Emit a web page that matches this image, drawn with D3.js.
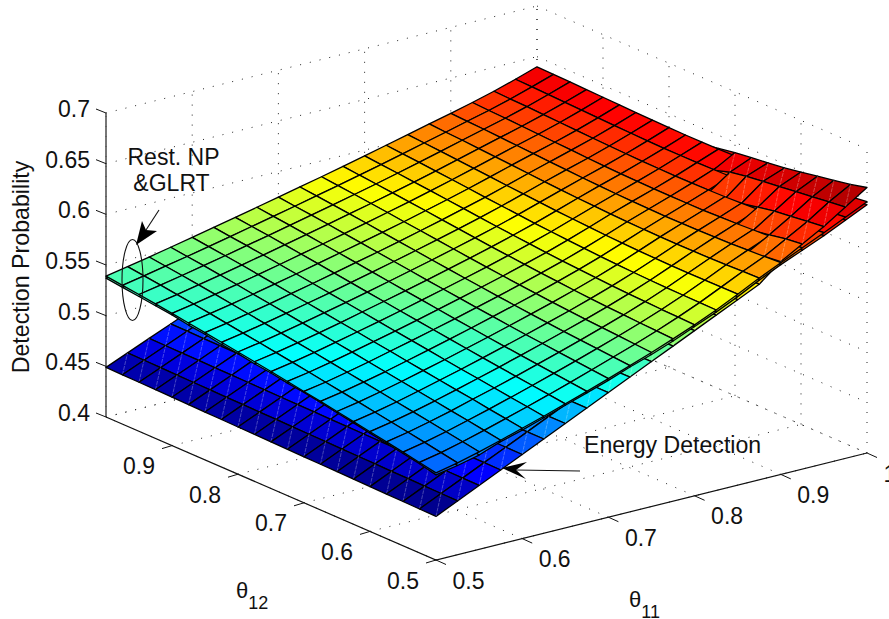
<!DOCTYPE html>
<html lang="en">
<head>
<meta charset="UTF-8">
<title>Detection Probability surfaces</title>
<style>
html, body { margin: 0; background: #fff; }
svg { display: block; }
text { font-family: "Liberation Sans", Arial, sans-serif; fill: #111; }
</style>
</head>
<body>
<svg id="chart" width="889" height="619"></svg>
<script src="https://d3js.org/d3.v7.min.js"></script>
<script>
// theta axes, 21 grid points from 0.5 to 1
const theta11 = [0.5,0.525,0.55,0.575,0.6,0.625,0.65,0.675,0.7,0.725,0.75,0.775,0.8,0.825,0.85,0.875,0.9,0.925,0.95,0.975,1];
const theta12 = [0.5,0.525,0.55,0.575,0.6,0.625,0.65,0.675,0.7,0.725,0.75,0.775,0.8,0.825,0.85,0.875,0.9,0.925,0.95,0.975,1];

const theta11Ticks = [0.5,0.6,0.7,0.8,0.9,1];
const theta12Ticks = [0.5,0.6,0.7,0.8,0.9];
const probTicks = [0.4,0.45,0.5,0.55,0.6,0.65,0.7];

// detection probability x 1000, row = theta12, column = theta11
const restNpMilli = [
[486,490.6,496.2,502.3,508.9,515.5,522.4,529.5,536.8,544.3,552,560.1,568.7,578.1,588.4,599,608.9,618.3,628,638,648],
[489.2,493.6,499.1,505,511.4,517.8,524.4,531.3,538.4,545.7,553.1,560.9,569.3,578.3,588.3,598.5,608,617.2,626.5,636.3,646],
[492.3,496.7,501.9,507.7,513.7,519.9,526.4,533.1,539.9,547,554.2,561.7,569.7,578.5,588.1,598,607.2,615.9,625,634.5,644],
[495.4,499.6,504.7,510.2,516.3,522.2,528.4,534.9,541.5,548.3,555.3,562.6,570.4,578.8,588.1,597.5,606.4,615,623.7,633,642.2],
[498.4,502.5,507.4,512.8,518.6,524.5,530.5,536.8,543.2,549.7,556.5,563.5,571,579.2,588.1,597.3,605.9,614.1,622.7,631.6,640.6],
[501.3,505.3,510.1,515.4,521,526.6,532.5,538.6,544.8,551.2,557.7,564.6,571.9,579.8,588.4,597.2,605.5,613.5,621.8,630.5,639.3],
[504.2,508.2,512.9,518,523.4,528.9,534.7,540.5,546.6,552.8,559.1,565.8,572.9,580.5,588.8,597.3,605.3,613,621.1,629.6,638.2],
[507.1,511,515.6,520.5,525.9,531.3,536.9,542.6,548.5,554.5,560.7,567.2,574,581.4,589.4,597.6,605.3,612.9,620.7,629,637.4],
[509.9,513.7,518.3,523.1,528.4,533.6,539.1,544.6,550.4,556.2,562.3,568.6,575.2,582.4,590.1,598.1,605.5,612.8,620.4,628.6,636.8],
[512.7,516.5,521,525.8,530.8,535.9,541.3,546.8,552.4,558.1,564,570.1,576.5,583.5,591,598.7,605.9,612.9,620.3,628.3,636.4],
[515.4,519.2,523.6,528.3,533.3,538.3,543.5,548.9,554.4,560,565.7,571.7,578,584.7,592,599.4,606.4,613.3,620.5,628.3,636.2],
[518,521.8,526.1,530.7,535.6,540.7,545.8,551,556.4,561.9,567.5,573.3,579.5,586,593,600.2,607.1,613.7,620.8,628.3,636.2],
[520.6,524.4,528.7,533.3,538.1,543,548,553.2,558.5,563.9,569.4,575.1,581.1,587.5,594.3,601.2,607.8,614.3,621.2,628.6,636.4],
[523.1,526.9,531.2,535.8,540.5,545.3,550.3,555.4,560.6,565.9,571.4,576.9,582.8,589,595.6,602.3,608.8,615,621.8,629.1,636.8],
[525.6,529.5,533.7,538.2,542.9,547.7,552.6,557.7,562.7,567.9,573.3,578.8,584.6,590.5,596.9,603.4,609.7,615.9,622.4,629.6,637.2],
[528.1,532,536.2,540.6,545.3,550,554.9,559.9,564.9,570,575.2,580.7,586.3,592.1,598.3,604.6,610.7,616.7,623.1,630.2,637.7],
[530.5,534.4,538.7,543.1,547.6,552.3,557.2,562,567,572.1,577.2,582.5,588,593.7,599.7,605.8,611.7,617.5,623.8,630.8,638.2],
[532.8,536.7,541,545.4,550,554.6,559.4,564.2,569.1,574.1,579.1,584.2,589.6,595.2,601,606.8,612.6,618.3,624.6,631.4,638.7],
[535,539,543.2,547.6,552.1,556.8,561.5,566.2,571.1,575.9,580.9,586,591.3,596.7,602.3,608,613.6,619.2,625.3,632,639.2],
[537,541,545.3,549.6,554.1,558.7,563.4,568.1,572.8,577.7,582.6,587.6,592.8,598.1,603.5,608.9,614.4,619.8,625.8,632.5,639.6],
[539,543.1,547.3,551.7,556.1,560.7,565.3,570,574.7,579.5,584.3,589.3,594.3,599.5,604.7,610,615.2,620.6,626.4,633,640]
];

const glrtMilli = [
[484,488,493,501,507,514,521,528,535,543,550,558,567,576,586,597,607,616,625,635,645],
[488,491,496,503,510,516,523,529,536,544,551,559,566,576,586,596,606,615,624,634,643],
[491,494,499,506,513,518,525,532,538,546,552,560,567,577,586,596,605,614,623,632,641],
[494,497,502,509,515,520,527,533,539,546,553,560,567,577,586,595,604,613,622,631,639],
[497,501,505,511,517,523,529,535,541,548,554,561,568,577,586,595,604,612,621,630,638],
[500,503,507,514,519,525,531,537,543,549,555,562,569,578,586,595,603,611,620,628,637],
[503,506,510,517,522,527,533,539,545,551,557,564,571,578,587,595,603,611,619,628,636],
[506,509,514,519,524,530,535,541,546,553,558,565,572,580,587,596,603,611,619,627,635],
[509,512,516,521,527,532,537,543,549,555,561,567,573,580,588,596,603,611,618,627,635],
[511,515,519,524,529,534,540,545,551,557,562,568,575,582,589,597,604,611,618,626,634],
[514,517,521,526,531,537,542,547,553,558,563,570,576,583,590,597,604,611,618,626,634],
[516,520,524,529,534,539,544,549,554,560,565,571,578,584,591,598,605,612,619,626,634],
[519,522,527,532,536,541,546,551,557,562,567,573,579,586,592,599,606,612,619,627,634],
[521,525,529,534,539,544,548,554,559,564,569,575,581,587,594,600,607,613,620,627,635],
[524,527,532,536,541,546,551,556,561,566,571,577,583,589,595,601,608,614,620,628,635],
[526,530,534,539,544,548,553,558,563,568,573,579,584,590,596,603,609,615,621,628,636],
[529,532,537,541,546,550,555,560,565,570,575,581,586,592,598,604,610,615,622,629,636],
[531,535,539,543,548,553,557,562,567,572,577,582,588,593,599,605,611,616,623,629,637],
[533,537,541,546,550,555,559,564,569,574,579,584,589,595,600,606,612,617,623,630,637],
[535,539,543,548,552,557,561,566,571,576,581,586,591,596,602,607,612,618,624,631,638],
[537,541,545,550,554,559,563,568,573,577,582,587,592,598,603,608,613,619,624,631,638]
];

const energyMilli = [
[443,453,463,473,483,493,503,513,523,533,543,553,563,573,583,593,610,622,634,648,662],
[443.3,453.3,463.2,473.2,483.1,493,503,513,522.9,532.9,542.8,552.8,562.7,572.7,582.6,592,608,620,632,646,658],
[443.6,453.5,463.4,473.3,483.2,493.1,503,512.9,522.8,532.7,542.6,552.5,562.4,572.3,582.2,591,605,617,630,644,655],
[443.9,453.8,463.6,473.5,483.3,493.2,503,512.9,522.7,532.6,542.4,552.3,562.1,572,581.8,590,603,614,628,642,652],
[444.2,454,463.8,473.6,483.4,493.2,503,512.8,522.6,532.4,542.2,552,561.8,571.6,581.4,590,601,612,625,640,649],
[444.5,454.3,464,473.8,483.5,493.3,503,512.8,522.5,532.3,542,551.8,561.5,571.3,581,589,600,610,621.5,638,646],
[444.8,454.5,464.2,473.9,483.6,493.3,503,512.7,522.4,532.1,541.8,551.5,561.2,570.9,580.6,589,599,608,619,636,644],
[445.1,454.8,464.4,474.1,483.7,493.4,503,512.7,522.3,532,541.6,551.3,560.9,570.6,580.2,588,598,607,618,633,642],
[445.4,455,464.6,474.2,483.8,493.4,503,512.6,522.2,531.8,541.4,551,560.6,570.2,579.8,588,598,606,617,628,640],
[445.7,455.3,464.8,474.4,483.9,493.5,503,512.6,522.1,531.7,541.2,550.8,560.3,569.9,579.4,588,597,605,616,625,637],
[446,455.5,465,474.5,484,493.5,503,512.5,522,531.5,541,550.5,560,569.5,579,587,597,605,615,624,634],
[446.3,455.8,465.2,474.7,484.1,493.6,503,512.5,521.9,531.4,540.8,550.3,559.7,569.2,578.6,587,596,604,615,623,633],
[446.6,456,465.4,474.8,484.2,493.6,503,512.4,521.8,531.2,540.6,550,559.4,568.8,578.2,587,596,604,614,623,633],
[446.9,456.3,465.6,475,484.3,493.7,503,512.4,521.7,531.1,540.4,549.8,559.1,568.5,577.8,586,595,603,614,622,632],
[447.2,456.5,465.8,475.1,484.4,493.7,503,512.3,521.6,530.9,540.2,549.5,558.8,568.1,577.4,586,595,603,613,622,632],
[447.5,456.8,466,475.3,484.5,493.8,503,512.3,521.5,530.8,540,549.3,558.5,567.8,577,586,595,603,613,621,631],
[447.8,457,466.2,475.4,484.6,493.8,503,512.2,521.4,530.6,539.8,549,558.2,567.4,576.6,585,594,602,613,621,631],
[448.1,457.3,466.4,475.6,484.7,493.9,503,512.2,521.3,530.5,539.6,548.8,557.9,567.1,576.2,585,594,602,612,621,630],
[448.4,457.5,466.6,475.7,484.8,493.9,503,512.1,521.2,530.3,539.4,548.5,557.6,566.7,575.8,585,594,602,612,620,630],
[448.7,457.8,466.8,475.9,484.9,494,503,512.1,521.1,530.2,539.2,548.3,557.3,566.4,575.4,584,593,602,611,620,629],
[449,458,467,476,485,494,503,512,521,530,539,548,557,566,575,584,593,602,611,620,629]
];

const surfaces = [
    { name: "Rest. NP", milli: restNpMilli, seams: false },
    { name: "GLRT", milli: glrtMilli, seams: false },
    { name: "Energy Detection", milli: energyMilli, seams: true }
];

// colormap stops: dark blue, blue, cyan, yellow, red, dark red
const jetLevels = [0.443, 0.463, 0.519, 0.58, 0.63, 0.6615];
const jetColors = ["#00008f", "#0000ff", "#00ffff", "#ffff00", "#ff0000", "#800000"];

const width = 889, height = 619;
const svg = d3.select("#chart");

// the box is an orthographic projection, each data axis moves the point along its own screen direction
const x11 = d3.scaleLinear().domain([0.5, 1]).range([436, 867]);
const y11 = d3.scaleLinear().domain([0.5, 1]).range([0, -107]);
const x12 = d3.scaleLinear().domain([0.5, 1]).range([0, -330]);
const y12 = d3.scaleLinear().domain([0.5, 1]).range([560, 417]);
const yProb = d3.scaleLinear().domain([0.4, 0.7]).range([0, -304]);

function project(t11, t12, p) {
    return [x11(t11) + x12(t12), y11(t11) + y12(t12) + yProb(p)];
}

const jet = d3.scaleLinear().domain(jetLevels).range(jetColors).clamp(true);

// dotted grid on the floor and the two back walls
const gridLines = [];
const gridTicks11 = theta11Ticks, gridTicks12 = theta12Ticks.concat([1]);
probTicks.forEach(p => {
    gridLines.push([[0.5, 1, p], [1, 1, p]]);
    gridLines.push([[1, 1, p], [1, 0.5, p]]);
});
gridTicks11.forEach(t => {
    gridLines.push([[t, 1, 0.4], [t, 1, 0.7]]);
    gridLines.push([[t, 0.5, 0.4], [t, 1, 0.4]]);
});
gridTicks12.forEach(t => {
    gridLines.push([[1, t, 0.4], [1, t, 0.7]]);
    gridLines.push([[0.5, t, 0.4], [1, t, 0.4]]);
});

const line = d3.line();
svg.append("g").selectAll("path")
    .data(gridLines)
    .enter().append("path")
    .attr("d", d => line(d.map(q => project(q[0], q[1], q[2]))))
    .attr("fill", "none")
    .attr("stroke", "#222")
    .attr("stroke-width", 1)
    .attr("stroke-dasharray", "1 9");

// axis lines and ticks
const axisG = svg.append("g").attr("stroke", "#111").attr("fill", "none");
axisG.append("path")
    .attr("d", line([project(0.5, 1, 0.4), project(0.5, 1, 0.7)]))
    .attr("stroke", "#555").attr("stroke-width", 1.6);
axisG.append("path").attr("d", line([project(0.5, 1, 0.4), project(0.5, 0.5, 0.4), project(1, 0.5, 0.4)])).attr("stroke-width", 1.2);

axisG.selectAll(".tz").data(probTicks).enter().append("path")
    .attr("d", p => { const a = project(0.5, 1, p); return line([a, [a[0] - 10, a[1] - 4]]); });
axisG.selectAll(".ty").data(theta12Ticks).enter().append("path")
    .attr("d", t => { const a = project(0.5, t, 0.4); return line([a, [a[0] - 10, a[1] + 3]]); });
axisG.selectAll(".tx").data(theta11Ticks).enter().append("path")
    .attr("d", t => { const a = project(t, 0.5, 0.4); return line([a, [a[0] + 10, a[1] + 4.5]]); });

const labelSize = 23;
svg.append("g").selectAll("text").data(probTicks).enter().append("text")
    .attr("x", p => project(0.5, 1, p)[0] - 16)
    .attr("y", p => project(0.5, 1, p)[1] + 4)
    .attr("text-anchor", "end")
    .attr("font-size", labelSize)
    .text(p => p);
svg.append("g").selectAll("text").data(theta12Ticks).enter().append("text")
    .attr("x", t => project(0.5, t, 0.4)[0] - 33)
    .attr("y", t => project(0.5, t, 0.4)[1] + 28.5)
    .attr("text-anchor", "middle")
    .attr("font-size", labelSize)
    .text(t => t);
svg.append("g").selectAll("text").data(theta11Ticks).enter().append("text")
    .attr("x", t => project(t, 0.5, 0.4)[0] + 16.5)
    .attr("y", t => project(t, 0.5, 0.4)[1] + 28.5)
    .attr("font-size", labelSize)
    .text(t => t);

// one quad per surface per grid cell, flat colour from the cell's first vertex
const cells = [];
surfaces.forEach((s, k) => {
    d3.range(theta11.length - 1).forEach(i => {
        d3.range(theta12.length - 1).forEach(j => {
            const m = s.milli;
            const corner = (a, b) => project(theta11[a], theta12[b], m[b][a] / 1000);
            cells.push({
                surface: k, i, j, seams: s.seams,
                level: m[j][i] / 1000,
                mean: d3.mean([m[j][i], m[j][i + 1], m[j + 1][i + 1], m[j + 1][i]]),
                pts: [corner(i, j), corner(i + 1, j), corner(i + 1, j + 1), corner(i, j + 1)]
            });
        });
    });
});

// at each grid position the higher surface is painted later, then back corner to front corner
const rank = d3.rollup(cells, v => {
    const r = new Map();
    d3.sort(v, c => c.mean).forEach((c, n) => r.set(c.surface, n));
    return r;
}, c => c.i + "," + c.j);
cells.forEach(c => { c.pass = rank.get(c.i + "," + c.j).get(c.surface); });
cells.sort((a, b) => d3.ascending(a.pass, b.pass) || d3.descending(a.i + a.j, b.i + b.j));

const cellG = svg.append("g");
cells.forEach(c => {
    cellG.append("polygon")
        .attr("points", c.pts.join(" "))
        .attr("fill", jet(c.level))
        .attr("stroke", "#000")
        .attr("stroke-width", 1.3)
        .attr("stroke-linejoin", "round");
    if (c.seams) {
        cellG.append("path")
            .attr("d", line([c.pts[0], c.pts[2]]))
            .attr("stroke", "#fff")
            .attr("stroke-opacity", 0.4)
            .attr("stroke-width", 0.7)
            .attr("stroke-dasharray", "4 1");
    }
});

// titles
svg.append("text")
    .attr("transform", "translate(29,267) rotate(-90)")
    .attr("text-anchor", "middle")
    .attr("font-size", 23.2)
    .text("Detection Probability");

function thetaLabel(x, y, sub) {
    const t = svg.append("text").attr("x", x).attr("y", y).attr("font-size", 22);
    t.append("tspan").text("\u03b8");
    t.append("tspan").attr("dy", 11).attr("font-size", 18).text(sub);
}
thetaLabel(236, 598, "12");
thetaLabel(629, 607, "11");

// annotations
svg.append("text").attr("x", 173.5).attr("y", 165).attr("text-anchor", "middle").attr("font-size", 23).text("Rest. NP");
svg.append("text").attr("x", 171.5).attr("y", 191).attr("text-anchor", "middle").attr("font-size", 23).text("&GLRT");
svg.append("text").attr("x", 584).attr("y", 453).attr("font-size", 23.1).text("Energy Detection");

svg.append("ellipse")
    .attr("cx", 132.5).attr("cy", 280).attr("rx", 10.5).attr("ry", 40.5)
    .attr("fill", "none").attr("stroke", "#111").attr("stroke-width", 1.1);

function arrow(from, tip, wingA, notch, wingB) {
    svg.append("path").attr("d", line([from, notch])).attr("stroke", "#111").attr("stroke-width", 1.1).attr("fill", "none");
    svg.append("path").attr("d", line([tip, wingA, notch, wingB]) + "Z").attr("fill", "#000");
}
arrow([159, 210], [136, 245], [142, 221], [146, 230], [157, 231]);
arrow([580, 471], [502, 468], [527, 462], [516, 470], [526, 479]);
</script>
</body>
</html>
